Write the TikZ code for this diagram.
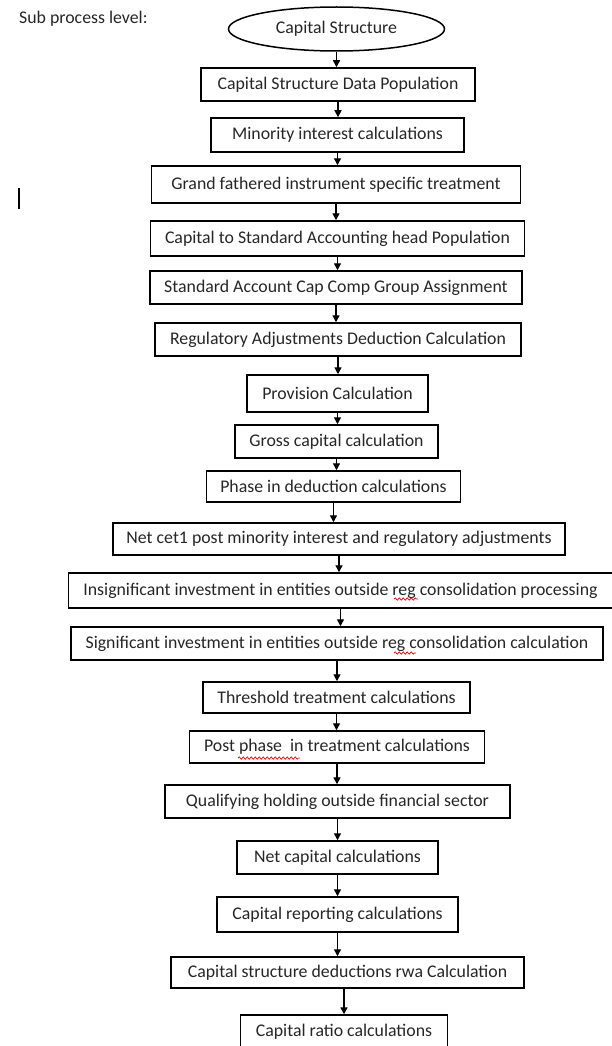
\documentclass[tikz,border=0pt]{standalone}
\usepackage{fontspec}
\setmainfont{Carlito}
\usetikzlibrary{arrows.meta,shapes.geometric,decorations.pathmorphing}
\tikzset{
  box/.style={draw, line width=1.5pt, inner sep=0pt, text=black!85},
  arr/.style={line width=1.4pt, -{Triangle[width=7pt,length=7pt]}},
  squig/.style={red, line width=0.7pt, decorate, decoration={snake, amplitude=1.2pt, segment length=4pt}}
}
\begin{document}
\begin{tikzpicture}[x=1pt,y=-1pt, font=\fontsize{17.8}{20}\selectfont]
\useasboundingbox (0,0) rectangle (612,1046);
\node[anchor=west, inner sep=0pt, text=black!85] (lvl) at (19,19) {Sub process level:};
\draw[line width=1.4pt] (19,188) -- (19,209);
\node[box, ellipse, minimum width=216pt, minimum height=44pt] (e) at (336.5,29) {Capital Structure};
\node[box, minimum width=274pt, minimum height=33pt] (b1) at (338,84.5) {Capital Structure Data Population};
\node[box, minimum width=253pt, minimum height=34pt] (b2) at (337.5,135) {Minority interest calculations};
\node[box, minimum width=369pt, minimum height=37pt] (b3) at (336,184.5) {Grand fathered instrument specific treatment};
\node[box, minimum width=374pt, minimum height=35pt] (b4) at (337.5,238.5) {Capital to Standard Accounting head Population};
\node[box, minimum width=372pt, minimum height=33pt] (b5) at (336,287.5) {Standard Account Cap Comp Group Assignment};
\node[box, minimum width=366pt, minimum height=33pt] (b6) at (338,339.5) {Regulatory Adjustments Deduction Calculation};
\node[box, minimum width=181pt, minimum height=37pt] (b7) at (337.5,393.5) {Provision Calculation};
\node[box, minimum width=203pt, minimum height=33pt] (b8) at (336.5,441.5) {Gross capital calculation};
\node[box, minimum width=254pt, minimum height=31pt] (b9) at (333.5,486.5) {Phase in deduction calculations};
\node[box, minimum width=452pt, minimum height=32pt] (b10) at (339,539) {Net cet1 post minority interest and regulatory adjustments};
\node[box, minimum width=544pt, minimum height=35pt] (b11) at (340.5,590.5) {Insignificant investment in entities outside reg consolidation processing};
\node[box, minimum width=532pt, minimum height=33pt] (b12) at (337,643.5) {Significant investment in entities outside reg consolidation calculation};
\node[box, minimum width=267pt, minimum height=31pt] (b13) at (336.5,697.5) {Threshold treatment calculations};
\node[box, minimum width=295pt, minimum height=32pt] (b14) at (337,747) {Post phase\ \ in treatment calculations};
\node[box, minimum width=345pt, minimum height=33pt] (b15) at (337.5,801.5) {Qualifying holding outside financial sector};
\node[box, minimum width=201pt, minimum height=33pt] (b16) at (337.5,857.5) {Net capital calculations};
\node[box, minimum width=241pt, minimum height=35pt] (b17) at (337.5,914.5) {Capital reporting calculations};
\node[box, minimum width=353pt, minimum height=31pt] (b18) at (347.5,972.5) {Capital structure deductions rwa Calculation};
\node[box, minimum width=207pt, minimum height=33pt] (b19) at (344,1031.5) {Capital ratio calculations};
\foreach \a/\b in {e/b1,b1/b2,b2/b3,b3/b4,b4/b5,b5/b6,b6/b7,b7/b8,b8/b9,b9/b10,b10/b11,b11/b12,b12/b13,b13/b14,b14/b15,b15/b16,b16/b17,b17/b18}
  \draw[arr] (\a.south) -- (\a.south |- \b.north);
\draw[arr] (b18.south -| b19.north) -- (b19.north);
\draw[squig] (394,599) -- (418,599);
\draw[squig] (394,653) -- (416,653);
\draw[squig] (238,758) -- (300,758);
\end{tikzpicture}
\end{document}
